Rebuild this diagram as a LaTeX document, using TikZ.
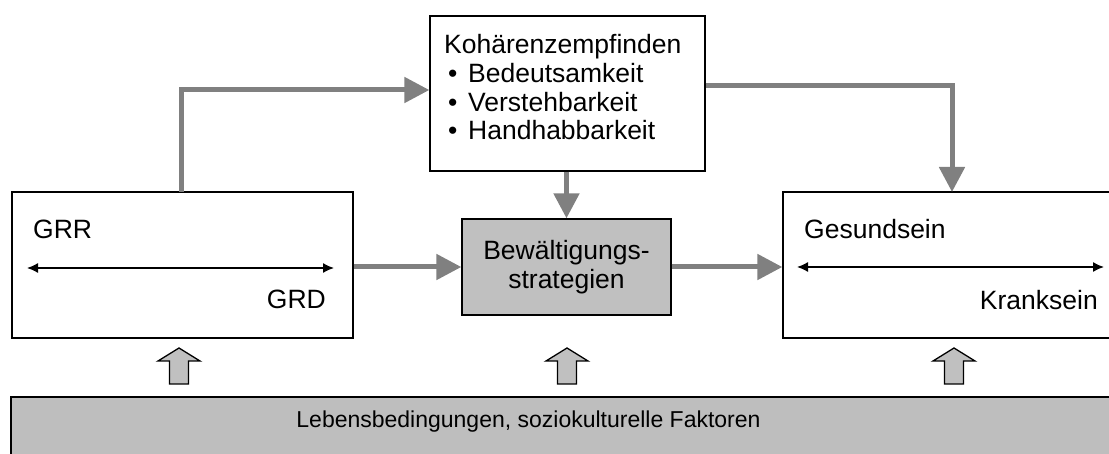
\documentclass[tikz,border=0pt]{standalone}
\usepackage{fontspec}
\setmainfont{Liberation Sans}
\usetikzlibrary{arrows.meta}
\definecolor{conncol}{HTML}{808080}
\definecolor{fillg}{HTML}{C0C0C0}
\definecolor{barg}{HTML}{BEBEBE}
\begin{document}
\begin{tikzpicture}[x=1pt,y=-1pt,
  box/.style={draw=black, line width=1.3pt, inner sep=0pt},
  conn/.style={draw=conncol, line width=5pt, -{Triangle[length=25pt,width=25pt]}},
  dbl/.style={line width=1.5pt, {Latex[length=11pt,width=10pt]}-{Latex[length=11pt,width=10pt]}},
  txt/.style={font=\fontsize{26.5}{29}\selectfont, inner sep=0pt},
  bartxt/.style={font=\fontsize{23}{26}\selectfont, inner sep=0pt},
  blockup/.pic={\draw[line width=1.3pt, fill=fillg, line join=miter]
     (0,0) -- (21,13) -- (9.5,13) -- (9.5,36) -- (-9.5,36) -- (-9.5,13) -- (-21,13) -- cycle;}
]
\useasboundingbox (0,0) rectangle (1109,454);
\clip (0,0) rectangle (1109,454);

% boxes
\node[box, minimum width=275pt, minimum height=155pt] (coh) at (567.5,93.5) {};
\node[box, fill=fillg, minimum width=209pt, minimum height=96pt, align=center, txt] (bew) at (566.5,267) {Bewältigungs-\\strategien};
\node[box, minimum width=341pt, minimum height=146pt] (grr) at (182.5,265) {};
\node[box, minimum width=347pt, minimum height=146pt] (ges) at (956.5,265) {};
\node[box, fill=barg, minimum width=1119pt, minimum height=73pt] (bar) at (570.5,433.5) {};

% texts
\node[txt, anchor=base west] (k1) at (444,54) {Kohärenzempfinden};
\node[txt, anchor=base west] (k2) at (448,83) {\makebox[20pt][l]{•}Bedeutsamkeit};
\node[txt, anchor=base west] (k3) at (448,112) {\makebox[20pt][l]{•}Verstehbarkeit};
\node[txt, anchor=base west] (k4) at (448,140) {\makebox[20pt][l]{•}Handhabbarkeit};
\node[txt, anchor=base west] (tgrr) at (33,239) {GRR};
\node[txt, anchor=base east] (tgrd) at (326,309) {GRD};
\node[txt, anchor=base west] (tges) at (804,239) {Gesundsein};
\node[txt, anchor=base east] (tkra) at (1098,310) {Kranksein};
\node[bartxt, anchor=base] (tbar) at (528.5,428) {Lebensbedingungen, soziokulturelle Faktoren};

% inner double arrows
\coordinate (ga) at (27,268);
\coordinate (gb) at (334,268);
\coordinate (ka) at (797,267);
\coordinate (kb) at (1104,267);
\draw[dbl] (ga) -- (gb);
\draw[dbl] (ka) -- (kb);

% connectors
\coordinate (upL) at (181,192);
\coordinate (dnR) at (952,192);
\draw[conn] (upL) |- ([yshift=3.5pt]coh.west);
\draw[conn] ([yshift=7.5pt]coh.east) -| (dnR);
\draw[conn] (coh.south -| bew.north) -- (bew.north);
\draw[conn] (grr.east |- bew.west) -- (bew.west);
\draw[conn] (bew.east) -- (ges.west |- bew.east);

% block arrows
\pic at (179,348) {blockup};
\pic at (567,348) {blockup};
\pic at (954,348) {blockup};
\end{tikzpicture}
\end{document}
